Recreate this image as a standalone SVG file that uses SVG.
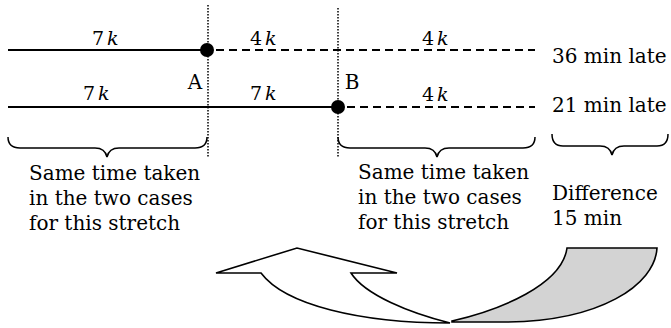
<svg xmlns="http://www.w3.org/2000/svg" width="671" height="328" viewBox="0 0 671 328">
<style>
.t{font-family:"DejaVu Serif","Liberation Serif",serif;font-size:20px;fill:#000}
.m{font-family:"DejaVu Serif","Liberation Serif",serif;font-size:19px;fill:#000}
.k{font-style:italic}
.solid{stroke:#000;stroke-width:1.8;fill:none}
.dash{stroke:#000;stroke-width:1.8;fill:none;stroke-dasharray:8 5}
.dot{stroke:#000;stroke-width:1.5;fill:none;stroke-dasharray:1.5 1.5}
.brace{stroke:#000;stroke-width:1.5;fill:none}
.arrow{stroke:#000;stroke-width:1.6;stroke-linejoin:miter}
</style>
<rect width="671" height="328" fill="#fff"/>
<g id="guides">
<line class="dot" x1="208" y1="5" x2="208" y2="157"/>
<line class="dot" x1="338" y1="8" x2="338" y2="158"/>
</g>
<g id="connectors">
<line class="solid" x1="8" y1="50" x2="207" y2="50"/>
<line class="dash" x1="216" y1="50" x2="535" y2="50"/>
<line class="solid" x1="8" y1="107" x2="338" y2="107"/>
<line class="dash" x1="347" y1="107" x2="535" y2="107"/>
</g>
<g id="pointA">
<circle cx="207" cy="50" r="7" fill="#000"/>
<text class="t" x="195" y="89" text-anchor="middle">A</text>
</g>
<g id="pointB">
<circle cx="338" cy="107" r="7" fill="#000"/>
<text class="t" x="352" y="89" text-anchor="middle">B</text>
</g>
<g id="labels">
<text class="m" x="92" y="45">7<tspan class="k" dx="3">k</tspan></text>
<text class="m" x="250" y="45">4<tspan class="k" dx="3">k</tspan></text>
<text class="m" x="422" y="45">4<tspan class="k" dx="3">k</tspan></text>
<text class="m" x="83" y="100">7<tspan class="k" dx="3">k</tspan></text>
<text class="m" x="250" y="100">7<tspan class="k" dx="3">k</tspan></text>
<text class="m" x="422" y="101">4<tspan class="k" dx="3">k</tspan></text>
<text class="t" x="552" y="63">36 min late</text>
<text class="t" x="552" y="112">21 min late</text>
</g>
<g id="brace-left">
<path class="brace" d="M8,137 Q8,148 20,148 L95,148 Q105,148 107,157 Q109,148 119,148 L195,148 Q207,148 207,137"/>
<text class="t" x="29" y="180">Same time taken</text>
<text class="t" x="29" y="205">in the two cases</text>
<text class="t" x="29" y="230">for this stretch</text>
</g>
<g id="brace-middle">
<path class="brace" d="M338,137 Q338,148 350,148 L425,148 Q435,148 437,157 Q439,148 449,148 L523,148 Q535,148 535,137"/>
<text class="t" x="358" y="179">Same time taken</text>
<text class="t" x="358" y="204">in the two cases</text>
<text class="t" x="358" y="229">for this stretch</text>
</g>
<g id="brace-right">
<path class="brace" d="M552,134 Q552,146 563,146 L600,146 Q610,146 612,155 Q614,146 624,146 L657,146 Q668,146 668,134"/>
<text class="t" x="552" y="200">Difference</text>
<text class="t" x="552" y="225">15 min</text>
</g>
<g id="curved-arrow">
<path class="arrow" fill="#d3d3d3" d="M452,321 C500,310 562,285 567,248 L657,248 C655,285 600,322 503,322 L452,322 Z"/>
<path class="arrow" fill="#fff" d="M261,273 C285,305 360,323 450,323 C410,313 365,295 351,273 L397,273 L297,248 L216,273 Z"/>
</g>
</svg>
